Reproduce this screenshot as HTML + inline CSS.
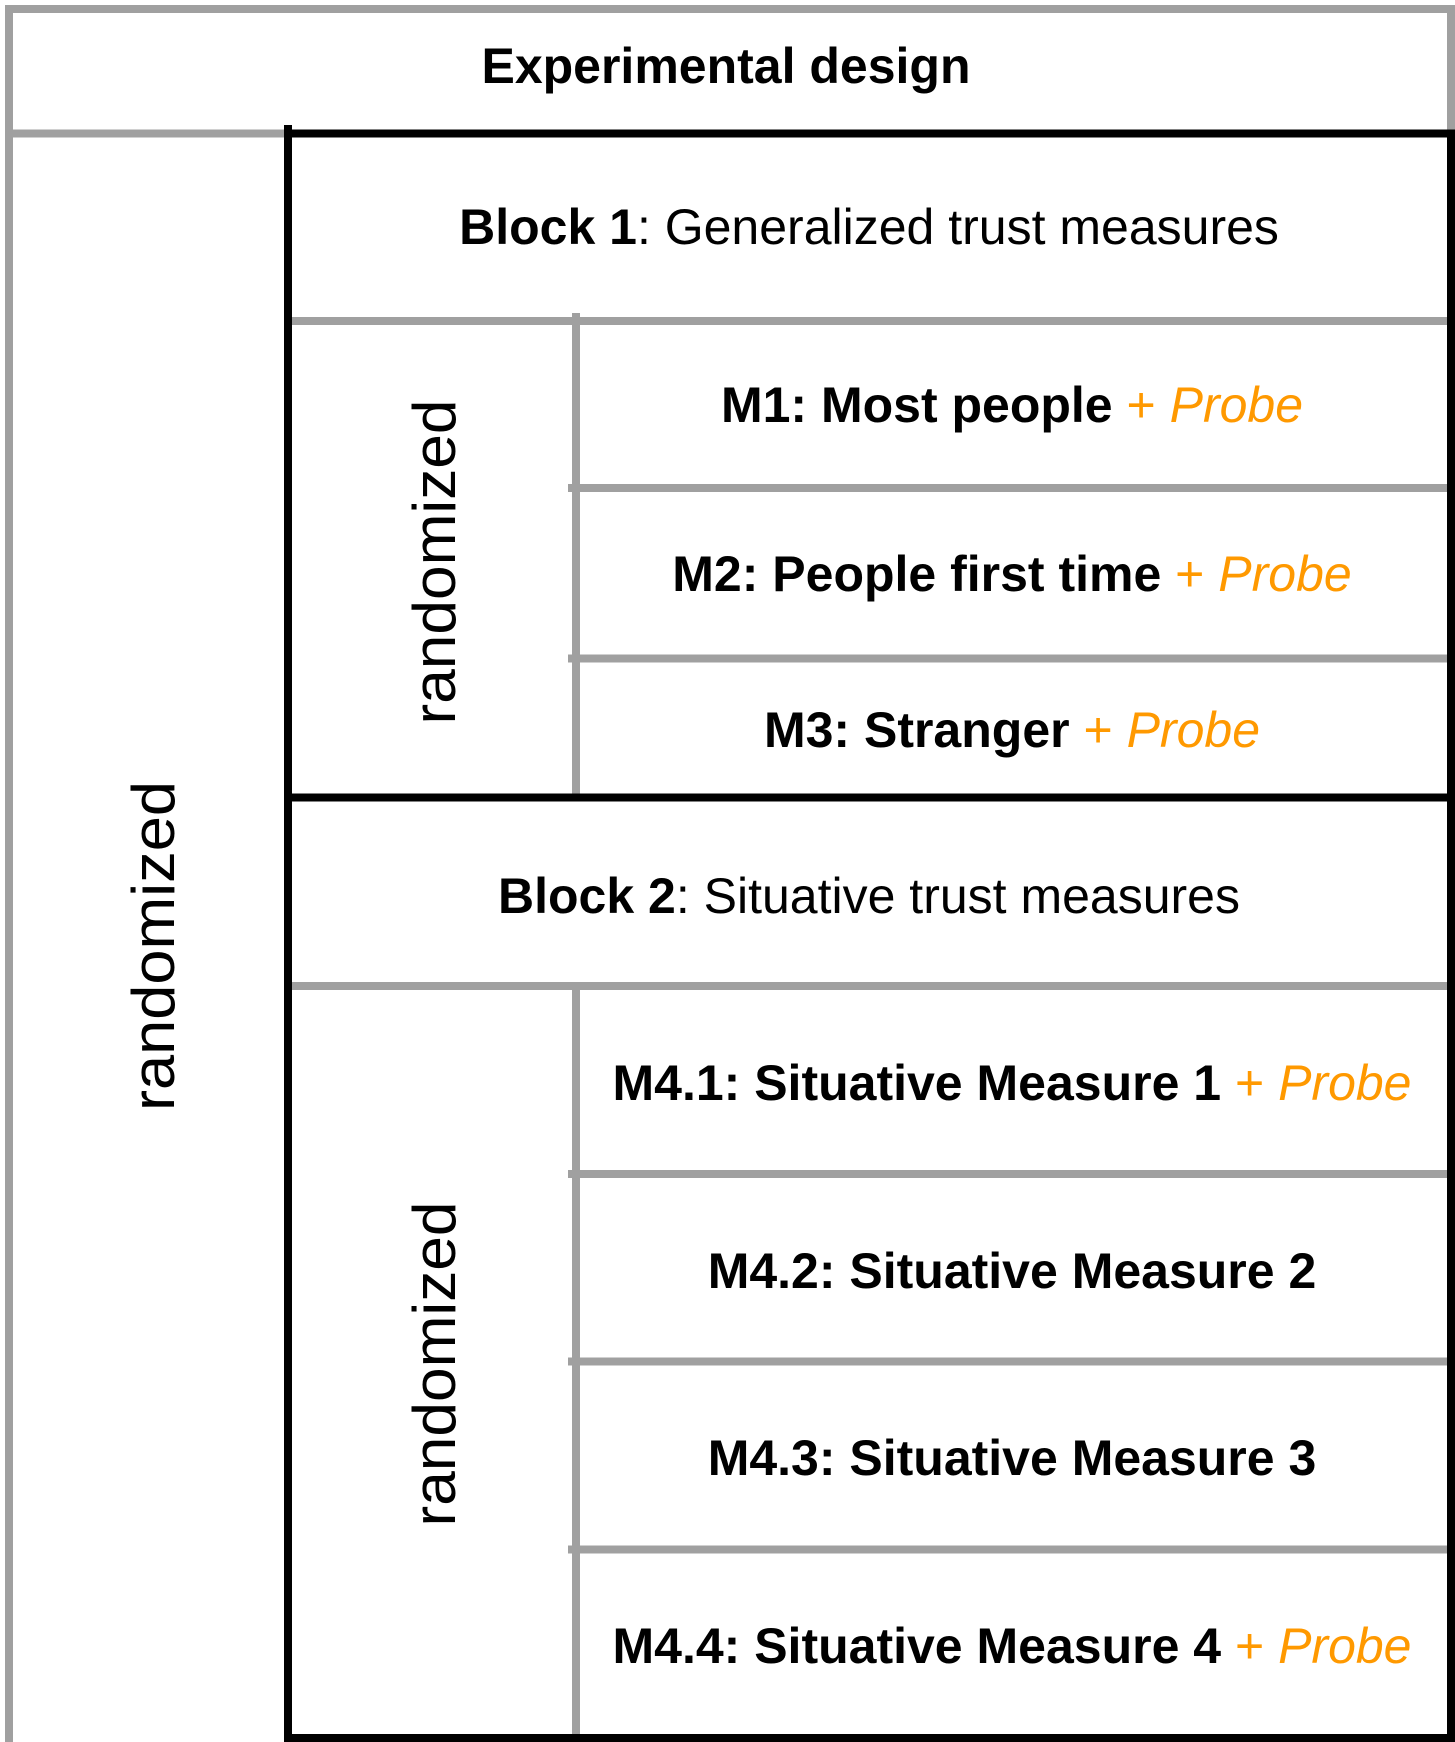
<!DOCTYPE html>
<html><head><meta charset="utf-8"><style>
html,body{margin:0;padding:0;background:#fff;}
svg{display:block;font-family:"Liberation Sans",Arial,sans-serif;}
</style></head><body>
<svg width="1455" height="1742" viewBox="0 0 1455 1742">
<g stroke="#a0a0a0" stroke-width="8" fill="none">
  <line x1="5" y1="9" x2="1455" y2="9"/>
  <line x1="9" y1="5" x2="9" y2="1742"/>
  <line x1="1451" y1="5" x2="1451" y2="130"/>
  <line x1="5" y1="133.5" x2="288" y2="133.5"/>
  <line x1="288" y1="321" x2="1455" y2="321"/>
  <line x1="576" y1="313" x2="576" y2="797"/>
  <line x1="568" y1="488" x2="1455" y2="488"/>
  <line x1="568" y1="658.5" x2="1455" y2="658.5"/>
  <line x1="288" y1="986" x2="1455" y2="986"/>
  <line x1="576" y1="986" x2="576" y2="1742"/>
  <line x1="568" y1="1174" x2="1455" y2="1174"/>
  <line x1="568" y1="1361.5" x2="1455" y2="1361.5"/>
  <line x1="568" y1="1549.5" x2="1455" y2="1549.5"/>
</g>
<g stroke="#000" stroke-width="8" fill="none">
  <line x1="288" y1="125" x2="288" y2="1742"/>
  <line x1="284" y1="133.5" x2="1455" y2="133.5"/>
  <line x1="1451" y1="130" x2="1451" y2="1742"/>
  <line x1="284" y1="797.5" x2="1455" y2="797.5"/>
  <line x1="284" y1="1738" x2="1455" y2="1738"/>
</g>
<g font-size="50" text-anchor="middle" fill="#000">
  <text x="726" y="83" font-weight="bold">Experimental design</text>
  <text x="869" y="244"><tspan font-weight="bold">Block 1</tspan>: Generalized trust measures</text>
  <text x="1012" y="422"><tspan font-weight="bold">M1: Most people</tspan><tspan fill="#f90"> + <tspan font-style="italic">Probe</tspan></tspan></text>
  <text x="1012" y="591"><tspan font-weight="bold">M2: People first time</tspan><tspan fill="#f90"> + <tspan font-style="italic">Probe</tspan></tspan></text>
  <text x="1012" y="747"><tspan font-weight="bold">M3: Stranger</tspan><tspan fill="#f90"> + <tspan font-style="italic">Probe</tspan></tspan></text>
  <text x="869" y="913"><tspan font-weight="bold">Block 2</tspan>: Situative trust measures</text>
  <text x="1012" y="1100"><tspan font-weight="bold">M4.1: Situative Measure 1</tspan><tspan fill="#f90"> + <tspan font-style="italic">Probe</tspan></tspan></text>
  <text x="1012" y="1288" font-weight="bold">M4.2: Situative Measure 2</text>
  <text x="1012" y="1475" font-weight="bold">M4.3: Situative Measure 3</text>
  <text x="1012" y="1663"><tspan font-weight="bold">M4.4: Situative Measure 4</tspan><tspan fill="#f90"> + <tspan font-style="italic">Probe</tspan></tspan></text>
</g>
<g font-size="60" text-anchor="middle" fill="#000">
  <text transform="translate(174,946) rotate(-90)" textLength="330" lengthAdjust="spacingAndGlyphs">randomized</text>
  <text transform="translate(455,562) rotate(-90)" textLength="325" lengthAdjust="spacingAndGlyphs">randomized</text>
  <text transform="translate(455,1364) rotate(-90)" textLength="325" lengthAdjust="spacingAndGlyphs">randomized</text>
</g>
</svg>
</body></html>
